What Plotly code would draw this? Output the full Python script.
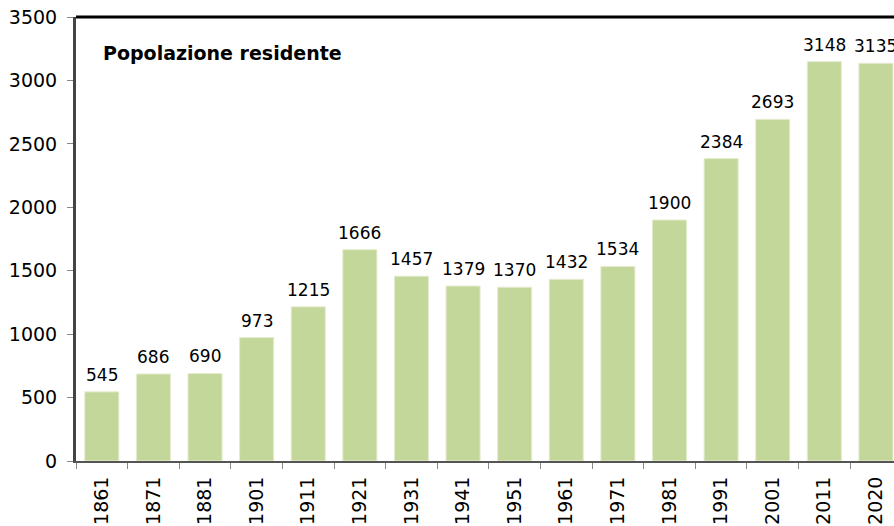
import plotly.graph_objs as go

# Censimenti e popolazione residente
anni = ['1861', '1871', '1881', '1901', '1911', '1921', '1931', '1941',
        '1951', '1961', '1971', '1981', '1991', '2001', '2011', '2020']
popolazione = [545, 686, 690, 973, 1215, 1666, 1457, 1379,
               1370, 1432, 1534, 1900, 2384, 2693, 3148, 3135]
y_ticks = [0, 500, 1000, 1500, 2000, 2500, 3000, 3500]

font_family = 'Verdana, DejaVu Sans, sans-serif'

fig = go.Figure()

fig.add_trace(go.Bar(
    x=anni,
    y=popolazione,
    marker=dict(color='#c4d79b', line=dict(color='#e4eccf', width=1)),
    hoverinfo='x+y',
))

# value labels above the bars, a bit higher than plotly's default outside text
# (category axis: x given as the category index)
value_labels = [
    dict(x=i, y=p, text=str(p), xref='x', yref='y',
         xanchor='center', yanchor='bottom', yshift=5, showarrow=False,
         font=dict(size=17, color='black', family=font_family))
    for i, p in enumerate(popolazione)
]

fig.update_layout(
    width=894,
    height=526,
    margin=dict(l=76, r=0, t=17, b=65),
    paper_bgcolor='white',
    plot_bgcolor='white',
    bargap=0.34,
    showlegend=False,
    font=dict(family=font_family, size=19, color='black'),
    annotations=value_labels + [dict(
        text='<b>Popolazione residente</b>',
        xref='paper', yref='paper',
        x=0.03, y=0.919, xanchor='left', yanchor='middle',
        showarrow=False,
        font=dict(size=19, color='black', family=font_family),
    )],
    shapes=[dict(
        type='line', xref='paper', yref='paper',
        x0=0, x1=1, y0=1, y1=1,
        line=dict(color='black', width=3),
    )],
)

fig.update_xaxes(
    type='category',
    range=[-0.5, 15.35],
    automargin=False,
    tickangle=-90,
    ticks='outside',
    tickson='boundaries',
    ticklen=6,
    tickcolor='#888888',
    ticklabelstandoff=6,
    showline=True,
    linecolor='#555555',
    linewidth=2,
    showgrid=False,
    tickfont=dict(size=19),
)

fig.update_yaxes(
    range=[0, 3500],
    automargin=False,
    tickvals=y_ticks,
    ticks='outside',
    ticklen=6,
    tickcolor='#888888',
    ticklabelstandoff=6,
    showline=True,
    linecolor='#444444',
    linewidth=3,
    showgrid=False,
    zeroline=False,
    tickfont=dict(size=19),
)

# the page body has a default 8px margin; drop it so the figure fills the window
fig.write_html(
    "out.html",
    config={'displayModeBar': False},
    post_script="document.body.style.margin='0';document.body.style.overflow='hidden';",
)
